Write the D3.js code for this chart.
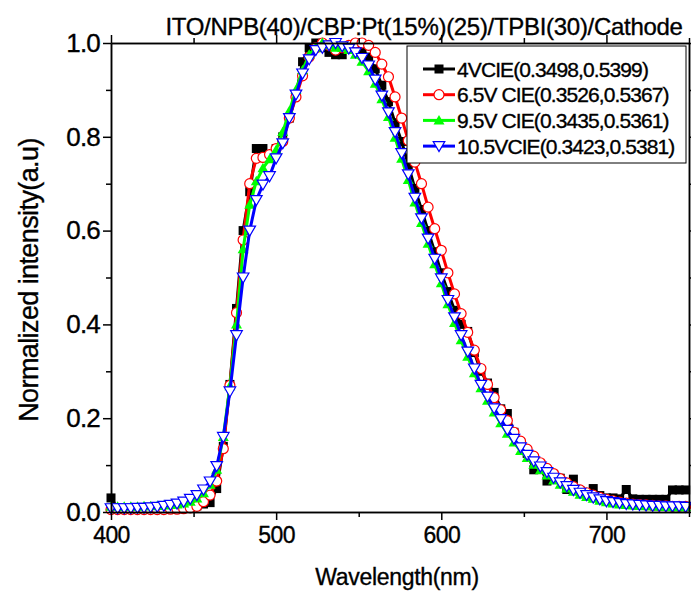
<!DOCTYPE html>
<html>
<head>
<meta charset="utf-8">
<script src="https://cdn.jsdelivr.net/npm/d3@7/dist/d3.min.js"></script>
<style>
  html, body { margin: 0; padding: 0; background: #fff; }
  svg { display: block; }
  text { font-family: "Liberation Sans", Arial, sans-serif; fill: #000; stroke: #000; stroke-width: 0.35px; }
</style>
</head>
<body>
<svg id="chart" width="691" height="592"></svg>
<script>
// Wavelength grid (nm)
const wavelengths = [
  400,404,408,412,416,420,424,428,432,436,
  440,444,448,452,456,460,464,468,472,476,
  480,484,488,492,496,500,504,508,512,516,
  520,524,528,532,536,540,544,548,552,556,
  560,564,568,572,576,580,584,588,592,596,
  600,604,608,612,616,620,624,628,632,636,
  640,644,648,652,656,660,664,668,672,676,
  680,684,688,692,696,700,704,708,712,716,
  720,724,728,732,736,740,744,748
];

// Normalized EL spectra at each driving voltage
const el4V = [
  0.030,0.008,0.008,0.008,0.008,0.008,0.008,0.008,0.008,0.008,
  0.008,0.009,0.010,0.013,0.017,0.020,0.050,0.140,0.272,0.434,
  0.600,0.683,0.775,0.775,0.760,0.775,0.800,0.840,0.890,0.960,
  0.990,1.000,0.990,0.980,0.975,0.975,0.990,0.990,0.985,0.970,
  0.945,0.910,0.875,0.830,0.790,0.740,0.690,0.645,0.600,0.555,
  0.510,0.470,0.430,0.400,0.385,0.340,0.300,0.275,0.255,0.220,
  0.210,0.170,0.148,0.125,0.090,0.095,0.066,0.080,0.072,0.048,
  0.070,0.045,0.040,0.050,0.035,0.030,0.030,0.028,0.048,0.028,
  0.027,0.027,0.027,0.027,0.027,0.047,0.047,0.047
];
const el6_5V = [
  0.005,0.005,0.005,0.005,0.005,0.005,0.005,0.005,0.005,0.006,
  0.006,0.007,0.009,0.012,0.022,0.036,0.066,0.135,0.270,0.425,
  0.580,0.700,0.754,0.756,0.762,0.775,0.790,0.840,0.885,0.930,
  0.970,0.990,1.000,0.995,0.985,0.990,0.995,1.000,1.000,0.995,
  0.980,0.955,0.928,0.885,0.840,0.792,0.746,0.700,0.650,0.604,
  0.558,0.510,0.465,0.423,0.383,0.345,0.306,0.272,0.244,0.218,
  0.195,0.170,0.151,0.134,0.119,0.105,0.093,0.082,0.071,0.062,
  0.054,0.047,0.041,0.036,0.031,0.027,0.024,0.021,0.019,0.017,
  0.016,0.015,0.014,0.013,0.013,0.012,0.012,0.012
];
const el9_5V = [
  0.011,0.011,0.011,0.011,0.011,0.012,0.012,0.013,0.014,0.015,
  0.016,0.018,0.022,0.029,0.040,0.058,0.090,0.160,0.268,0.400,
  0.560,0.655,0.705,0.733,0.752,0.772,0.810,0.855,0.900,0.942,
  0.975,0.990,1.000,0.995,0.990,0.990,0.985,0.975,0.960,0.940,
  0.913,0.880,0.842,0.798,0.753,0.708,0.660,0.616,0.572,0.528,
  0.488,0.443,0.403,0.366,0.331,0.296,0.264,0.237,0.212,0.189,
  0.167,0.148,0.130,0.115,0.101,0.089,0.078,0.067,0.058,0.050,
  0.043,0.037,0.032,0.028,0.024,0.021,0.018,0.016,0.015,0.014,
  0.013,0.012,0.012,0.011,0.011,0.010,0.010,0.010
];
const el10_5V = [
  0.008,0.008,0.008,0.008,0.009,0.009,0.010,0.011,0.013,0.015,
  0.018,0.022,0.028,0.036,0.048,0.065,0.098,0.160,0.257,0.377,
  0.500,0.600,0.665,0.698,0.716,0.754,0.786,0.840,0.890,0.935,
  0.965,0.985,0.990,0.995,1.000,0.993,0.988,0.980,0.968,0.952,
  0.922,0.888,0.852,0.810,0.765,0.720,0.670,0.626,0.583,0.540,
  0.498,0.452,0.415,0.377,0.342,0.306,0.271,0.246,0.221,0.198,
  0.175,0.156,0.138,0.122,0.108,0.097,0.085,0.073,0.063,0.055,
  0.047,0.041,0.036,0.031,0.027,0.023,0.021,0.019,0.017,0.016,
  0.015,0.014,0.013,0.013,0.012,0.012,0.012,0.011
];

const legendLabels = [
  "4VCIE(0.3498,0.5399)",
  "6.5V CIE(0.3526,0.5367)",
  "9.5V CIE(0.3435,0.5361)",
  "10.5VCIE(0.3423,0.5381)"
];
const xTicks = [400, 500, 600, 700];
const xMinorTicks = [450, 550, 650, 750];
const yTicks = [0.0, 0.2, 0.4, 0.6, 0.8, 1.0];
const yMinorTicks = [0.1, 0.3, 0.5, 0.7, 0.9];
const titleText = "ITO/NPB(40)/CBP:Pt(15%)(25)/TPBI(30)/Cathode";

const seriesList = [
  { values: el4V,    color: "#000000", marker: "square",   label: legendLabels[0] },
  { values: el6_5V,  color: "#ff0000", marker: "circle",   label: legendLabels[1] },
  { values: el9_5V,  color: "#00ff00", marker: "triUp",    label: legendLabels[2] },
  { values: el10_5V, color: "#0000ff", marker: "triDown",  label: legendLabels[3] }
];

const svg = d3.select("#chart");
const plot = { left: 111, right: 689, top: 43, bottom: 512 };

const x = d3.scaleLinear().domain([400, 750]).range([plot.left, plot.right]);
const y = d3.scaleLinear().domain([0, 1.0]).range([plot.bottom, plot.top]);

// Marker shapes
function drawMarker(g, type, color) {
  if (type === "square") {
    g.append("rect").attr("x", -4.5).attr("y", -4.5).attr("width", 9).attr("height", 9)
      .attr("fill", color);
  } else if (type === "circle") {
    g.append("circle").attr("r", 5).attr("fill", "#fff").attr("stroke", color).attr("stroke-width", 1.2);
  } else if (type === "triUp") {
    g.append("path").attr("d", "M0,-5.5L5.5,4L-5.5,4Z").attr("fill", color);
  } else if (type === "triDown") {
    g.append("path").attr("d", "M-5.8,-4.5L5.8,-4.5L0,5.5Z").attr("fill", "#fff")
      .attr("stroke", color).attr("stroke-width", 1.2);
  }
}

// Series lines and markers
const line = d3.line().x((d, i) => x(wavelengths[i])).y(d => y(d));
const seriesG = svg.append("g");
seriesList.forEach(s => {
  const g = seriesG.append("g");
  g.append("path").datum(s.values).attr("d", line)
    .attr("fill", "none").attr("stroke", s.color).attr("stroke-width", 3)
    .attr("stroke-linejoin", "round");
  s.values.forEach((v, i) => {
    const m = g.append("g").attr("transform", `translate(${x(wavelengths[i])},${y(v)})`);
    drawMarker(m, s.marker, s.color);
  });
});

// Frame and axes
const fmtY = d3.format(".1f");

const xAxis = svg.append("g").attr("transform", `translate(0,${plot.bottom})`)
  .call(d3.axisBottom(x).tickValues(xTicks).tickSize(8).tickSizeOuter(0).tickPadding(7));
xAxis.selectAll("text").style("font-size", "23px").style("letter-spacing", "-0.6px");
svg.append("g").attr("transform", `translate(0,${plot.bottom})`)
  .call(d3.axisBottom(x).tickValues(xMinorTicks).tickSize(5).tickSizeOuter(0).tickFormat(""));

svg.append("g").attr("transform", `translate(0,${plot.top})`)
  .call(d3.axisTop(x).tickValues(xTicks).tickSize(8).tickSizeOuter(0).tickFormat(""));
svg.append("g").attr("transform", `translate(0,${plot.top})`)
  .call(d3.axisTop(x).tickValues(xMinorTicks).tickSize(5).tickSizeOuter(0).tickFormat(""));

const yAxis = svg.append("g").attr("transform", `translate(${plot.left},0)`)
  .call(d3.axisLeft(y).tickValues(yTicks).tickFormat(fmtY).tickSize(8).tickSizeOuter(0).tickPadding(3));
yAxis.selectAll("text").style("font-size", "26px").style("letter-spacing", "-0.8px");
svg.append("g").attr("transform", `translate(${plot.left},0)`)
  .call(d3.axisLeft(y).tickValues(yMinorTicks).tickSize(5).tickSizeOuter(0).tickFormat(""));

svg.append("g").attr("transform", `translate(${plot.right},0)`)
  .call(d3.axisRight(y).tickValues(yTicks).tickSize(8).tickSizeOuter(0).tickFormat(""));
svg.append("g").attr("transform", `translate(${plot.right},0)`)
  .call(d3.axisRight(y).tickValues(yMinorTicks).tickSize(5).tickSizeOuter(0).tickFormat(""));

svg.selectAll(".domain").attr("stroke", "#000").attr("stroke-width", 1.5);
svg.selectAll(".tick line").attr("stroke", "#000").attr("stroke-width", 1.5);
svg.selectAll(".tick text").attr("fill", "#000");

// Legend
const legend = svg.append("g");
legend.append("rect").attr("x", 407).attr("y", 46).attr("width", 279).attr("height", 117)
  .attr("fill", "#fff").attr("stroke", "#000").attr("stroke-width", 1);
seriesList.forEach((s, i) => {
  const cy = 69 + i * 25.7;
  legend.append("line").attr("x1", 423).attr("x2", 455).attr("y1", cy).attr("y2", cy)
    .attr("stroke", s.color).attr("stroke-width", 3);
  const m = legend.append("g").attr("transform", `translate(439,${cy})`);
  drawMarker(m, s.marker, s.color);
  legend.append("text").attr("x", 457).attr("y", cy + 7.5)
    .style("font-size", "21px").style("letter-spacing", "-0.9px").text(s.label);
});

// Title and axis titles
svg.append("text").attr("x", 424).attr("y", 35).attr("text-anchor", "middle")
  .style("font-size", "24px").style("letter-spacing", "-0.3px").text(titleText);

svg.append("text").attr("x", 397).attr("y", 585).attr("text-anchor", "middle")
  .style("font-size", "23px").style("letter-spacing", "-0.3px").text("Wavelength(nm)");

svg.append("text").attr("transform", "translate(38,280) rotate(-90)").attr("text-anchor", "middle")
  .style("font-size", "27px").style("letter-spacing", "-0.6px").text("Normalized intensity(a.u)");
</script>
</body>
</html>
